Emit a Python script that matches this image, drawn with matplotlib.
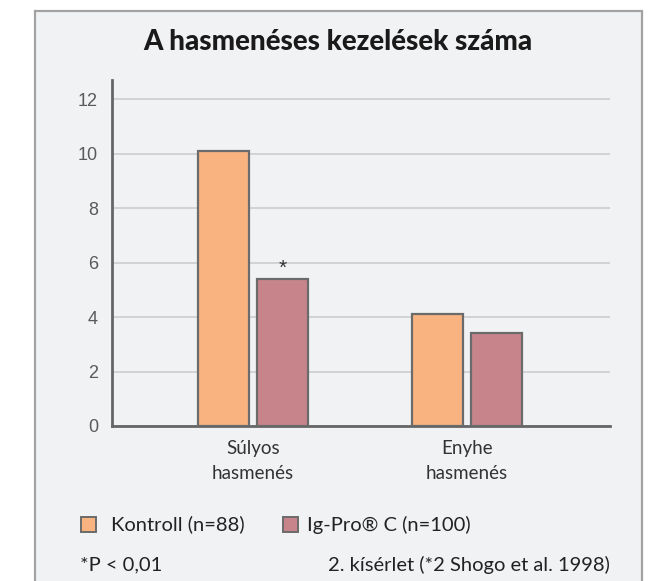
import matplotlib
matplotlib.use("Agg")
import matplotlib.pyplot as plt
from matplotlib.patches import Rectangle
import numpy as np

categories = ["Súlyos\nhasmenés", "Enyhe\nhasmenés"]
series_names = ["Kontroll (n=88)", "Ig-Pro® C (n=100)"]
kontroll = [10.1, 4.1]
igpro = [5.4, 3.4]
yticks = [0, 2, 4, 6, 8, 10, 12]
title = "A hasmenéses kezelések száma"
footnote_left = "*P < 0,01"
footnote_right = "2. kísérlet (*2 Shogo et al. 1998)"

c_kontroll = "#f8b380"
c_igpro = "#c8848b"
edge = "#6b6b6b"
bg = "#f1f2f4"

plt.rcParams['font.family'] = ['Lato', 'DejaVu Sans']

W, H = 656, 581
fig = plt.figure(figsize=(W / 100, H / 100), dpi=100)
fig.patch.set_facecolor("white")
frame = Rectangle((35 / W, -0.05), (641.5 - 35) / W, (581 - 11) / H + 0.05,
                  transform=fig.transFigure, facecolor=bg, edgecolor="#a3a3a3",
                  linewidth=1.6, zorder=-2)
fig.patches.append(frame)

ax = fig.add_axes([112 / W, (581 - 426) / H, (610 - 112) / W, (426 - 80) / H])
ax.set_facecolor("none")
x = np.arange(len(categories))
w = 0.238
off = 0.138
ax.bar(x - off, kontroll, w, color=c_kontroll, edgecolor=edge, linewidth=1.6, zorder=3)
ax.bar(x + off, igpro, w, color=c_igpro, edgecolor=edge, linewidth=1.6, zorder=3)
ax.text(x[0] + off, igpro[0] + 0.05, "*", ha="center", va="bottom", fontsize=15,
        color="#333333", family="Liberation Sans")

ax.set_xlim(-0.659, 1.668)
ax.set_ylim(0, 12.7)
ax.set_yticks(yticks)
ax.set_yticklabels([str(t) for t in yticks], fontsize=13, color="#5a5a5a",
                   family="Liberation Sans")
ax.set_xticks(x)
ax.set_xticklabels(categories, fontsize=13.5, color="#333333", linespacing=1.6)
ax.tick_params(axis="y", length=0, pad=10)
ax.tick_params(axis="x", length=0, pad=10)
ax.grid(axis="y", color="#d0d0d2", linewidth=1.3, zorder=0)
for s in ["top", "right"]:
    ax.spines[s].set_visible(False)
for s in ["left", "bottom"]:
    ax.spines[s].set_color("#666666")
    ax.spines[s].set_linewidth(2.0)

fig.text(338 / W, 1 - 42 / H, title, ha="center", va="center", fontsize=20,
         fontweight="black", color="#1a1a1a")

# legend
ly = 1 - 524.5 / H
for (xs, xt, c, name) in [(81, 111, c_kontroll, series_names[0]),
                          (283, 307, c_igpro, series_names[1])]:
    fig.patches.append(Rectangle((xs / W, ly - 7.5 / H), 15 / W, 15 / H,
                                 transform=fig.transFigure, facecolor=c,
                                 edgecolor=edge, linewidth=1.4, zorder=2))
    fig.text(xt / W, ly, name, ha="left", va="center", fontsize=14.5, color="#222222")

fy = 1 - 565 / H
fig.text(80 / W, fy, footnote_left, ha="left", va="center", fontsize=14.5, color="#222222")
fig.text(610 / W, fy, footnote_right, ha="right", va="center", fontsize=14.5, color="#222222")

fig.savefig("out.png", dpi=100, facecolor=fig.get_facecolor())
